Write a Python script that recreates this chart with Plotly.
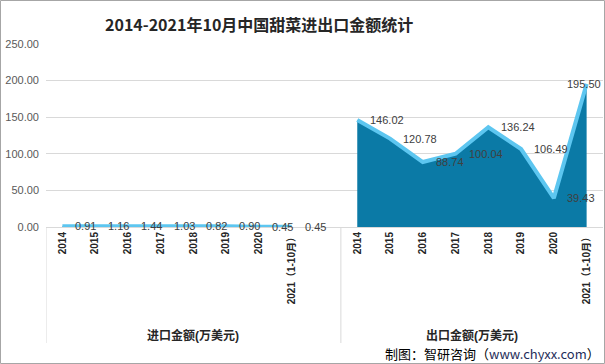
import plotly.graph_objects as go

# ---- data ----
categories = ["2014", "2015", "2016", "2017", "2018", "2019", "2020", "2021（1-10月）"]
import_vals = [0.91, 1.16, 1.44, 1.03, 0.82, 0.90, 0.45, 0.45]
export_vals = [146.02, 120.78, 88.74, 100.04, 136.24, 106.49, 39.43, 195.50]
group_names = ["进口金额(万美元)", "出口金额(万美元)"]
title_text = "2014-2021年10月中国甜菜进出口金额统计"
source_text = "制图：智研咨询（<span style='color:#1F2D5A'>www.chyxx.com</span>）"

# ---- layout constants ----
W, H = 605, 364
L, R, T, B = 46, 603, 44, 227
pw, ph = R - L, B - T

def px_x(x):
    return (x - L) / pw

def px_y(y):
    return (B - y) / ph

FILL = "#0B7AA6"
LINE = "#5DC6F0"
FONT = "Liberation Sans, Noto Sans CJK SC, sans-serif"

n = len(categories)
x_imp = list(range(n))
x_exp = [i + n + 1 for i in range(n)]

fig = go.Figure()
for xs, ys in [(x_imp, import_vals), (x_exp, export_vals)]:
    fig.add_trace(go.Scatter(
        x=xs, y=ys, mode="lines", fill="tozeroy",
        fillcolor=FILL, line=dict(color=LINE, width=4),
        hoverinfo="skip", showlegend=False,
    ))

annotations = []
all_x = x_imp + x_exp
all_y = import_vals + export_vals
for i, (xv, yv) in enumerate(zip(all_x, all_y)):
    last = i == len(all_x) - 1
    annotations.append(dict(
        x=xv, y=yv, xref="x", yref="y", text=f"{yv:.2f}", showarrow=False,
        xanchor="center" if last else "left", yanchor="middle",
        xshift=-3 if last else 11,
        font=dict(family=FONT, size=11, color="#404040"),
    ))

# group labels
for gi, name in enumerate(group_names):
    cx = 4.0 if gi == 0 else 12.5
    annotations.append(dict(
        x=cx, y=px_y(335), xref="x", yref="paper", text=name, showarrow=False,
        xanchor="center", yanchor="middle",
        font=dict(family=FONT, size=12, color="#262626", weight="bold"),
    ))

annotations.append(dict(
    x=px_x(259), y=px_y(24), xref="paper", yref="paper", text=title_text,
    showarrow=False, xanchor="center", yanchor="middle",
    font=dict(family="Noto Sans CJK SC, sans-serif", size=16, color="#262626", weight="bold"),
))
annotations.append(dict(
    x=px_x(602), y=px_y(353), xref="paper", yref="paper", text=source_text,
    showarrow=False, xanchor="right", yanchor="middle",
    font=dict(family="Noto Sans CJK SC, sans-serif", size=13, color="#000000"),
))

shapes = []
for xd in [-0.5, n + 0.5]:
    shapes.append(dict(type="line", xref="x", yref="paper", x0=xd, x1=xd,
                       y0=0, y1=px_y(343), line=dict(color="#D9D9D9", width=1)))
shapes.append(dict(type="rect", xref="paper", yref="paper",
                   x0=px_x(0.5), x1=px_x(604.5), y0=px_y(363.5), y1=px_y(0.5),
                   line=dict(color="#A6A6A6", width=1), layer="above"))

fig.update_layout(
    width=W, height=H,
    margin=dict(l=L, r=W - R, t=T, b=H - B),
    paper_bgcolor="white", plot_bgcolor="white",
    showlegend=False,
    xaxis=dict(
        range=[-0.5, 2 * n + 0.5],
        tickmode="array", tickvals=all_x, ticktext=categories + categories,
        tickangle=-90, ticks="", showgrid=False, zeroline=False,
        showline=True, linecolor="#D9D9D9", linewidth=1,
        tickfont=dict(family=FONT, size=10, color="#262626", weight="bold"),
        fixedrange=True,
    ),
    yaxis=dict(
        range=[0, 250], tickvals=[0, 50, 100, 150, 200, 250], tickformat=".2f",
        showgrid=True, gridcolor="#D9D9D9", gridwidth=1, zeroline=False,
        showline=False, ticks="", ticklabelstandoff=6,
        tickfont=dict(family=FONT, size=11, color="#595959"),
        fixedrange=True,
    ),
    annotations=annotations,
    shapes=shapes,
)

fig.write_html(
    "out.html",
    config={"displayModeBar": False},
    post_script="document.body.style.margin='0';document.body.style.overflow='hidden';",
)
